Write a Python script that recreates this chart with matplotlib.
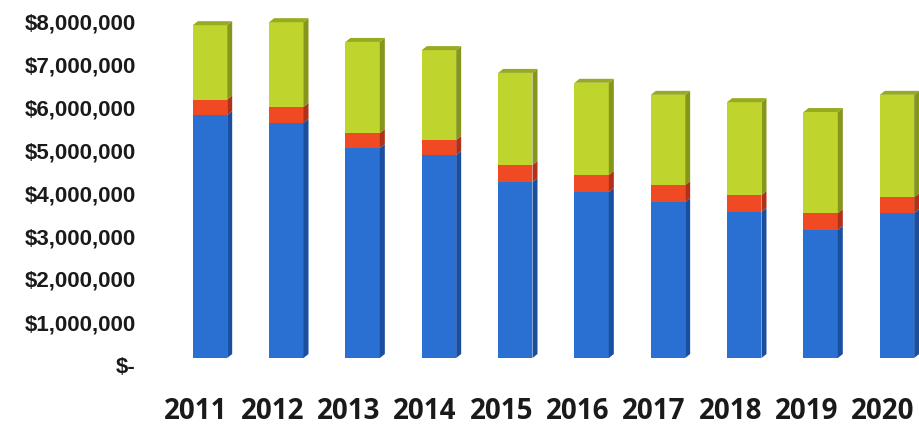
import matplotlib
matplotlib.use("Agg")
import matplotlib.pyplot as plt
from matplotlib.patches import Polygon
from matplotlib.transforms import ScaledTranslation
from matplotlib.ticker import FuncFormatter

years = ["2011", "2012", "2013", "2014", "2015", "2016", "2017", "2018", "2019", "2020"]
blue_vals = [5650000, 5470000, 4880000, 4720000, 4090000, 3860000, 3630000, 3400000, 2980000, 3370000]
red_vals = [360000, 370000, 350000, 350000, 400000, 400000, 390000, 390000, 390000, 370000]
green_vals = [1730000, 1970000, 2120000, 2090000, 2140000, 2140000, 2100000, 2160000, 2350000, 2380000]
yticks = [0, 1000000, 2000000, 3000000, 4000000, 5000000, 6000000, 7000000, 8000000]

front_colors = ["#2a6fd2", "#f04a24", "#bfd42c"]
side_colors = ["#1a4e9e", "#b03018", "#85961a"]
top_color = "#98ab20"

W, H = 920, 425
fig = plt.figure(figsize=(W / 100, H / 100), dpi=100)
px_per_unit = 76.33
px_per_m = 43.0
left_px = 140
bottom_px = 45
ax = fig.add_axes([left_px / W, bottom_px / H, 1 - left_px / W, 1 - bottom_px / H])
ax.set_xlim((left_px - 210) / px_per_unit, (W - 210) / px_per_unit)
ax.set_ylim(-(380 - 358) / px_per_m * 1e6, 358 / px_per_m * 1e6)

width = 0.45
dx = 5 / px_per_unit
dy = 4 / px_per_m * 1e6
xs = list(range(len(years)))

bottoms = [0] * len(years)
series = [blue_vals, red_vals, green_vals]
for si, vals in enumerate(series):
    ax.bar(xs, vals, width=width, bottom=bottoms, color=front_colors[si], edgecolor="none", zorder=2)
    for i, (b, v) in enumerate(zip(bottoms, vals)):
        x1 = i + width / 2
        t = b + v
        ax.add_patch(Polygon([(x1, b), (x1 + dx, b + dy), (x1 + dx, t + dy), (x1, t)],
                             closed=True, facecolor=side_colors[si], edgecolor="none", zorder=2))
    bottoms = [b + v for b, v in zip(bottoms, vals)]

for i, t in enumerate(bottoms):
    x0 = i - width / 2
    x1 = i + width / 2
    ax.add_patch(Polygon([(x0, t), (x0 + dx, t + dy), (x1 + dx, t + dy), (x1, t)],
                         closed=True, facecolor=top_color, edgecolor="none", zorder=3))

for s in ax.spines.values():
    s.set_visible(False)

ax.set_yticks(yticks)
ax.yaxis.set_major_formatter(FuncFormatter(lambda v, p: "$-" if v == 0 else "${:,.0f}".format(v)))
ax.tick_params(axis="y", length=0, pad=3)
for lab in ax.get_yticklabels():
    lab.set_fontfamily("Liberation Sans")
    lab.set_fontweight("bold")
    lab.set_fontsize(16)
    lab.set_color("#1a1a1a")
    lab.set_transform(lab.get_transform() + ScaledTranslation(0, -7 / 100, fig.dpi_scale_trans))

ax.set_xticks(xs)
ax.set_xticklabels(years)
ax.tick_params(axis="x", length=0, pad=12)
for lab in ax.get_xticklabels():
    lab.set_fontfamily("Open Sans")
    lab.set_fontweight("bold")
    lab.set_fontsize(20)
    lab.set_color("#1a1a1a")
    lab.set_transform(lab.get_transform() + ScaledTranslation(-14 / 100, 0, fig.dpi_scale_trans))

fig.savefig("out.png", dpi=100, facecolor="white")
